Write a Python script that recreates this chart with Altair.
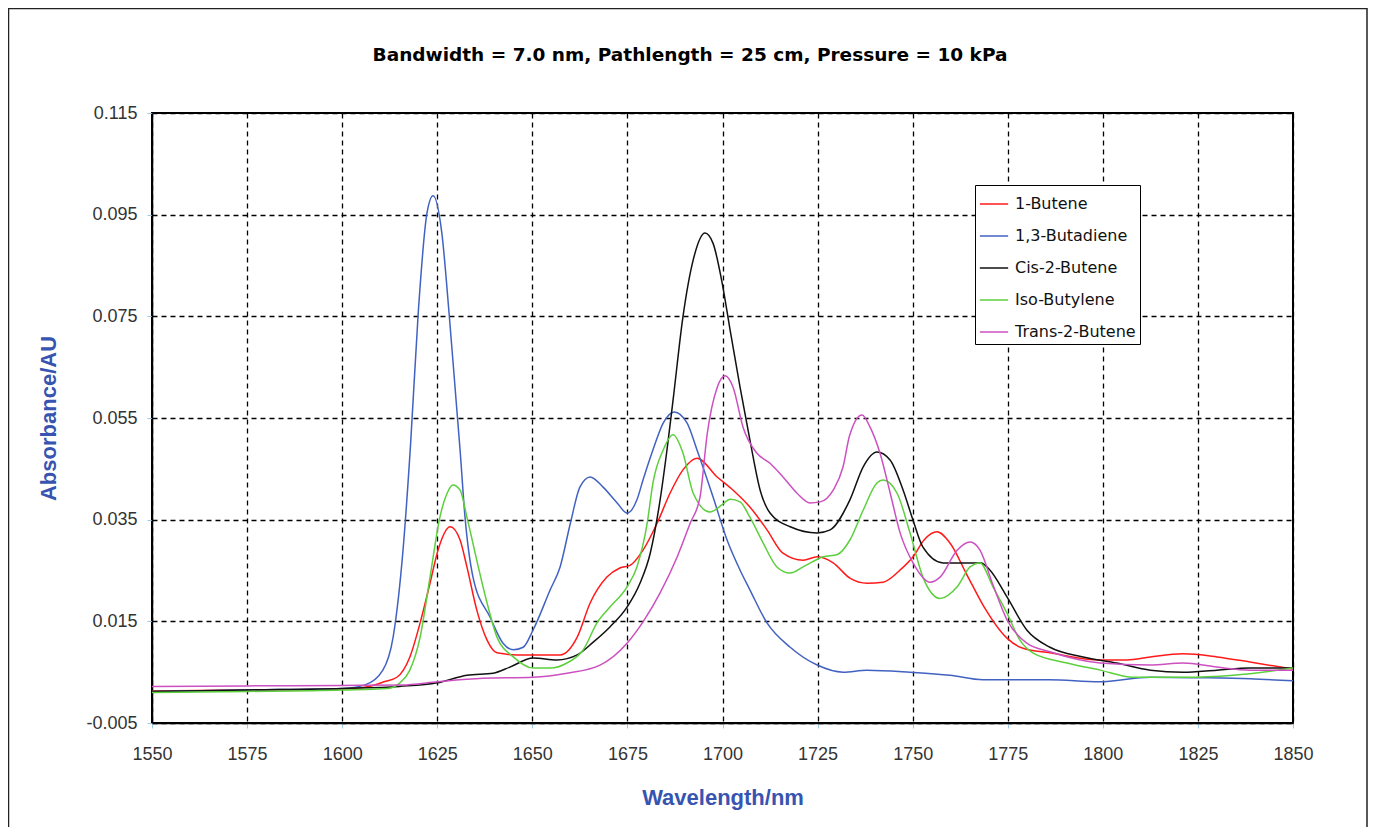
import altair as alt
import pandas as pd

series_names = ["1-Butene", "1,3-Butadiene", "Cis-2-Butene", "Iso-Butylene", "Trans-2-Butene"]
series_colors = ["#ff1a1a", "#4262c2", "#111111", "#5ccf3c", "#cc50c0"]

butene_wl = [1550, 1575, 1600, 1607, 1611, 1614.4, 1617.8, 1620.5, 1623.1, 1625.2, 1628.4, 1631, 1632.8,
             1635.4, 1638.1, 1640.7, 1646, 1652, 1657.3, 1661.8, 1665.2, 1669.6, 1673, 1675.7, 1679.1,
             1682.8, 1686.2, 1689.6, 1693.3, 1698.6, 1702.8, 1707.2, 1711.7, 1715.9, 1721.2, 1724.9,
             1729.1, 1733.5, 1738, 1742.2, 1746.7, 1750.1, 1753, 1756.4, 1759.8, 1764.3, 1768.5, 1774.8,
             1779, 1786.1, 1799.3, 1806.4, 1812.5, 1821.1, 1830, 1838.7, 1850]
butene_ab = [0.0013, 0.0015, 0.0017, 0.0022, 0.0031, 0.0040, 0.0080, 0.0147, 0.0225, 0.0290, 0.0336, 0.0310,
             0.0257, 0.0172, 0.0113, 0.0088, 0.0084, 0.0084, 0.0084, 0.0119, 0.0186, 0.0237, 0.0255, 0.0260,
             0.0290, 0.0343, 0.0402, 0.0448, 0.0471, 0.0434, 0.0408, 0.0375, 0.0330, 0.0284, 0.0270, 0.0277,
             0.0265, 0.0235, 0.0225, 0.0227, 0.0251, 0.0277, 0.0310, 0.0326, 0.0304, 0.0241, 0.0182, 0.0117,
             0.0097, 0.0088, 0.0074, 0.0074, 0.0080, 0.0086, 0.0080, 0.0070, 0.0056]

butadiene_wl = [1550, 1575, 1600, 1606, 1610.7, 1613.4, 1616, 1618, 1620, 1622.3, 1623.9, 1626.2, 1628.1,
                1630, 1631, 1632.3, 1634.4, 1638.9, 1642.3, 1645, 1647.6, 1650.2, 1654.7, 1657.3, 1660,
                1662.5, 1665.2, 1668.6, 1672.3, 1674.9, 1677.5, 1679.1, 1681.7, 1684.4, 1687.3, 1690.7,
                1693.3, 1697.5, 1701.2, 1704.6, 1707.2, 1711.7, 1717.8, 1724.9, 1731.7, 1738, 1749.3,
                1759.8, 1768.5, 1775, 1786, 1799, 1812.5, 1825.6, 1838.7, 1850]
butadiene_ab = [0.0012, 0.0015, 0.0018, 0.0025, 0.0054, 0.0119, 0.0290, 0.0500, 0.0757, 0.0953, 0.0987,
                0.0914, 0.0757, 0.0580, 0.0487, 0.0355, 0.0237, 0.0158, 0.0107, 0.0094, 0.0099, 0.0133,
                0.0212, 0.0257, 0.0343, 0.0414, 0.0434, 0.0414, 0.0383, 0.0363, 0.0389, 0.0428, 0.0487,
                0.0540, 0.0562, 0.0540, 0.0487, 0.0395, 0.0310, 0.0251, 0.0212, 0.0147, 0.0099, 0.0064,
                0.0050, 0.0054, 0.0050, 0.0044, 0.0035, 0.0035, 0.0035, 0.0031, 0.0040, 0.0039, 0.0037, 0.0033]

cis_wl = [1550, 1575, 1600, 1615, 1625, 1632.8, 1639.7, 1644.1, 1650.2, 1656.5, 1661.8, 1666, 1670.4,
          1674.9, 1678.3, 1681, 1683.6, 1685.4, 1687, 1689.6, 1692.3, 1695.4, 1697.5, 1699.9, 1702, 1704.6,
          1707.2, 1709.9, 1712.5, 1717.8, 1724.9, 1728.3, 1733.5, 1737, 1740.6, 1744.1, 1747.5, 1750.1,
          1752.7, 1758, 1768, 1770.3, 1774.8, 1780, 1786.1, 1794.8, 1803.7, 1812.5, 1821.1, 1830, 1838.7, 1850]
cis_ab = [0.0012, 0.0015, 0.0018, 0.0022, 0.0029, 0.0044, 0.0048, 0.0060, 0.0078, 0.0074, 0.0084, 0.0109,
          0.0139, 0.0178, 0.0225, 0.0284, 0.0389, 0.0487, 0.0585, 0.0749, 0.0861, 0.0914, 0.0894, 0.0816,
          0.0723, 0.0611, 0.0507, 0.0408, 0.0363, 0.0336, 0.0324, 0.0330, 0.0389, 0.0454, 0.0483, 0.0467,
          0.0408, 0.0349, 0.0296, 0.0265, 0.0265, 0.0251, 0.0198, 0.0133, 0.0099, 0.0080, 0.0068, 0.0054,
          0.0050, 0.0054, 0.0058, 0.0058]

iso_wl = [1550, 1575, 1600, 1612, 1615.2, 1617.8, 1620.5, 1623.1, 1625.7, 1627.6, 1629.1, 1631, 1632.8,
          1635.4, 1638.1, 1640.7, 1645, 1650.2, 1654.7, 1659.1, 1663.4, 1667, 1670.4, 1674.9, 1677.5,
          1680.2, 1681.7, 1684.4, 1687, 1689.6, 1692.3, 1696.7, 1700, 1702, 1704.6, 1707.2, 1710.7, 1714.3,
          1717.8, 1721.2, 1726.5, 1730.1, 1733.5, 1737, 1740.6, 1742.2, 1745.9, 1749.3, 1752.7, 1757.2,
          1761.7, 1765.1, 1767.7, 1771.1, 1774.8, 1778.2, 1781.6, 1790.6, 1799.3, 1808, 1821.1, 1834.3, 1850]
iso_ab = [0.0010, 0.0012, 0.0015, 0.0018, 0.0029, 0.0054, 0.0119, 0.0237, 0.0355, 0.0402, 0.0418, 0.0408,
          0.0355, 0.0270, 0.0186, 0.0119, 0.0080, 0.0058, 0.0058, 0.0068, 0.0094, 0.0147, 0.0178, 0.0218,
          0.0257, 0.0343, 0.0422, 0.0487, 0.0517, 0.0481, 0.0402, 0.0365, 0.0380, 0.0390, 0.0385, 0.0355,
          0.0304, 0.0257, 0.0245, 0.0257, 0.0277, 0.0281, 0.0310, 0.0369, 0.0422, 0.0428, 0.0402, 0.0324,
          0.0237, 0.0195, 0.0218, 0.0257, 0.0265, 0.0218, 0.0166, 0.0113, 0.0088, 0.0068, 0.0054, 0.0040,
          0.0040, 0.0044, 0.0058]

trans_wl = [1550, 1575, 1600, 1617, 1625, 1637, 1650.2, 1659.1, 1667.8, 1674.9, 1679.1, 1683.6, 1688.1,
            1691.5, 1694.1, 1696, 1698.6, 1700.7, 1702.8, 1705.4, 1709, 1712.5, 1715.9, 1719.6, 1723,
            1725.7, 1729.1, 1731.7, 1733.4, 1736.7, 1738.8, 1741.4, 1744.1, 1746.7, 1750.1, 1754.6, 1757.2,
            1761.7, 1765.1, 1767.7, 1771.1, 1774.8, 1780, 1786.1, 1799.3, 1812.5, 1821.1, 1830, 1838.7, 1850]
trans_ab = [0.0022, 0.0023, 0.0024, 0.0025, 0.0031, 0.0038, 0.0040, 0.0048, 0.0064, 0.0107, 0.0149, 0.0206,
            0.0277, 0.0343, 0.0395, 0.0520, 0.0610, 0.0633, 0.0610, 0.0532, 0.0481, 0.0461, 0.0434, 0.0402,
            0.0383, 0.0385, 0.0408, 0.0454, 0.0515, 0.0556, 0.0532, 0.0481, 0.0402, 0.0324, 0.0265, 0.0227,
            0.0237, 0.0290, 0.0306, 0.0290, 0.0222, 0.0153, 0.0107, 0.0090, 0.0068, 0.0064, 0.0068, 0.0060,
            0.0054, 0.0054]

y_ticks = [-0.005, 0.015, 0.035, 0.055, 0.075, 0.095, 0.115]
x_ticks = [1550, 1575, 1600, 1625, 1650, 1675, 1700, 1725, 1750, 1775, 1800, 1825, 1850]
chart_title = "Bandwidth = 7.0 nm, Pathlength = 25 cm, Pressure = 10 kPa"

all_wl = [butene_wl, butadiene_wl, cis_wl, iso_wl, trans_wl]
all_ab = [butene_ab, butadiene_ab, cis_ab, iso_ab, trans_ab]
rows = []
for k, (name, wl, ab) in enumerate(zip(series_names, all_wl, all_ab)):
    for i, (w, a) in enumerate(zip(wl, ab)):
        rows.append({"Compound": name, "idx": i, "Wavelength": w, "Absorbance": a})
df = pd.DataFrame(rows)

FONT = "Liberation Sans"
WIDE = "DejaVu Sans"
AXIS_BLUE = "#3654b0"

lines = alt.Chart(df).mark_line(strokeWidth=1.5, clip=True, interpolate="monotone").encode(
    x=alt.X("Wavelength:Q",
            scale=alt.Scale(domain=[1550, 1850], nice=False, zero=False),
            axis=alt.Axis(values=x_ticks, format="d", title="Wavelength/nm", labelFlush=False,
                          titleY=74, titleBaseline="middle")),
    y=alt.Y("Absorbance:Q",
            scale=alt.Scale(domain=[-0.005, 0.115], nice=False, zero=False),
            axis=alt.Axis(values=y_ticks, title="Absorbance/AU", labelFlush=False,
                          labelExpr="replace(format(datum.value, '.3f'), '\u2212', '-')",
                          titleX=-104, titleBaseline="middle", titleAlign="center")),
    color=alt.Color("Compound:N",
                    scale=alt.Scale(domain=series_names, range=series_colors),
                    legend=alt.Legend(title=None, orient="none", legendX=823, legendY=72,
                                      symbolType="stroke", symbolSize=800, symbolStrokeWidth=1.5,
                                      labelFont=WIDE, labelFontSize=16, labelColor="#111111",
                                      labelOffset=6, rowPadding=9, padding=4,
                                      strokeColor="black", fillColor="white")),
    detail="Compound:N",
    order="idx:Q",
)

frame = alt.Chart(pd.DataFrame({"f": [0]})).mark_rect(
    filled=False, stroke="#222222", strokeWidth=1.5, clip=False
).encode(
    x=alt.value(-143.5), x2=alt.value(1215), y=alt.value(-104.5), y2=alt.value(760)
)

title_text = alt.Chart(pd.DataFrame({"t": [chart_title]})).mark_text(
    font=WIDE, fontSize=18.5, fontWeight="bold", color="black", align="center", baseline="middle", clip=False
).encode(
    text="t:N", x=alt.value(538), y=alt.value(-58)
)

chart = alt.layer(frame, title_text, lines).properties(
    width=1141, height=610,
    autosize=alt.AutoSizeParams(type="none"),
    padding={"left": 144, "top": 105, "right": 75, "bottom": 104},
).configure_view(
    stroke="black", strokeWidth=2
).configure_axis(
    labelFont=FONT, labelFontSize=18, labelColor="#333333",
    titleFont=FONT, titleFontSize=22, titleFontWeight="bold", titleColor=AXIS_BLUE,
    domainColor="black", domainWidth=1.5,
    tickColor="#9ccbea", tickSize=5, tickWidth=1,
    grid=True, gridColor="black", gridDash=[5, 4], gridWidth=1.3, gridOpacity=1,
).configure_axisX(
    labelPadding=17
).configure_axisY(
    labelPadding=10
)

chart.save("out.html", embed_options={"renderer": "svg", "actions": False})
